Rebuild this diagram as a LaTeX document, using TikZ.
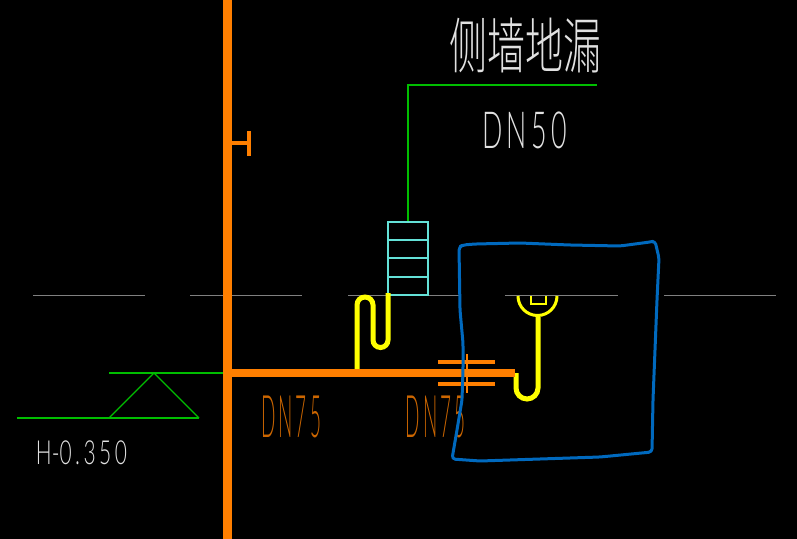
\documentclass[tikz,border=0pt]{standalone}
\usepackage{fontspec}
\usepackage{graphicx}
\setmainfont{Liberation Sans}
\newfontfamily\cjkthin[UprightFont=* Light]{Noto Sans CJK SC}
\newfontfamily\latthin[UprightFont=* Light]{Lato}
\definecolor{cadorange}{RGB}{255,127,0}
\definecolor{dimorange}{RGB}{204,102,0}
\definecolor{cadyellow}{RGB}{255,255,0}
\definecolor{cadgreen}{RGB}{0,190,0}
\definecolor{cadcyan}{RGB}{100,225,215}
\definecolor{cadgray}{RGB}{128,128,128}
\definecolor{cadwhite}{RGB}{225,225,225}
\definecolor{inkblue}{RGB}{0,105,190}
\tikzset{
  px/.style={line width=#1*0.75pt},
  pipe/.style={draw=cadorange,px=8.5},
  flange/.style={draw=cadorange,px=3.5},
  trap/.style={draw=cadyellow,px=5},
  trapthin/.style={draw=cadyellow,px=3},
  thin green/.style={draw=cadgreen,px=1.3},
  grid line/.style={draw=cadgray,px=1},
  box line/.style={draw=cadcyan,px=1.2},
  ink/.style={draw=inkblue,px=3,line join=round,line cap=round,rounded corners=2.5pt},
  label/.style={inner sep=0pt,outer sep=0pt,anchor=center},
}
\newcommand{\fit}[3]{\resizebox*{\dimexpr #1pt*3/4\relax}{\dimexpr #2pt*3/4\relax}{#3}}
\begin{document}
\begin{tikzpicture}[x=0.75pt,y=-0.75pt]
\path[use as bounding box,fill=black] (0,0) rectangle (797,539);
% grid line
\foreach \a/\b in {33/145,190/302,348/460,505/618,664/776}
  \draw[grid line] (\a,295.5) -- (\b,295.5);
% green leader, cyan stack
\draw[thin green] (408,222) -- (408,85) -- (597,85);
\draw[box line] (388,222) rectangle (428,295);
\foreach \y in {240,258,277} \draw[box line] (388,\y) -- (428,\y);
% level mark
\draw[thin green] (109,373) -- (224,373);
\draw[thin green] (17,418) -- (199,418);
\draw[thin green] (109,418) -- (154,373) -- (199,418);
% pipes
\draw[trap] (357,369) -- (357,305) arc[start angle=180,end angle=360,radius=8] -- (373,340)
  arc[start angle=180,end angle=0,radius=7.5] -- (388,293);
\draw[trap] (516,373) -- (516,388) arc[start angle=180,end angle=0,radius=11] -- (538,317);
\draw[trapthin] (518,296) arc[start angle=180,end angle=0,radius=19.5];
\draw[draw=cadyellow,px=1.2] (531,296) -- (531,304) -- (546,304) -- (546,296);
\draw[pipe] (227.5,0) -- (227.5,539);
\draw[pipe] (227.5,373) -- (515,373);
\draw[flange] (231,143) -- (250,143);
\draw[flange] (249,131) -- (249,156);
\draw[flange] (438,362) -- (495,362);
\draw[flange] (438,384) -- (495,384);
\draw[draw=cadorange,px=2] (467,354) -- (467,393);
% labels
\node[label,text=cadwhite] (title) at (525,46) {\fit{152}{55}{\cjkthin 侧墙地漏}};
\node[label,text=cadwhite] (dnfifty) at (524.5,130) {\fit{85}{37}{\latthin D\,N\,5\,0}};
\node[label,text=dimorange] (dnleft) at (291,417) {\fit{60}{42}{\latthin D\,N\,7\,5}};
\node[label,text=dimorange] (dnright) at (435.5,417) {\fit{60}{42}{\latthin D\,N\,7\,5}};
\node[label,text=cadwhite] (level) at (81.5,452.5) {\fit{91}{24}{\latthin H-0\,.\,3\,5\,0}};
% hand-drawn outline
\draw[ink] (459,247) -- (463,245) -- (475,244)
  -- (520,243) -- (570,245) -- (620,246) -- (650,242) -- (655,241)
  -- (659,258) -- (657,300) -- (655,350) -- (653,400) -- (652,452)
  -- (600,457) -- (540,459) -- (480,461) -- (452,459)
  -- (457,430) -- (462,400) -- (463,370) -- (463,343) -- (460,310) -- cycle;
\end{tikzpicture}
\end{document}
